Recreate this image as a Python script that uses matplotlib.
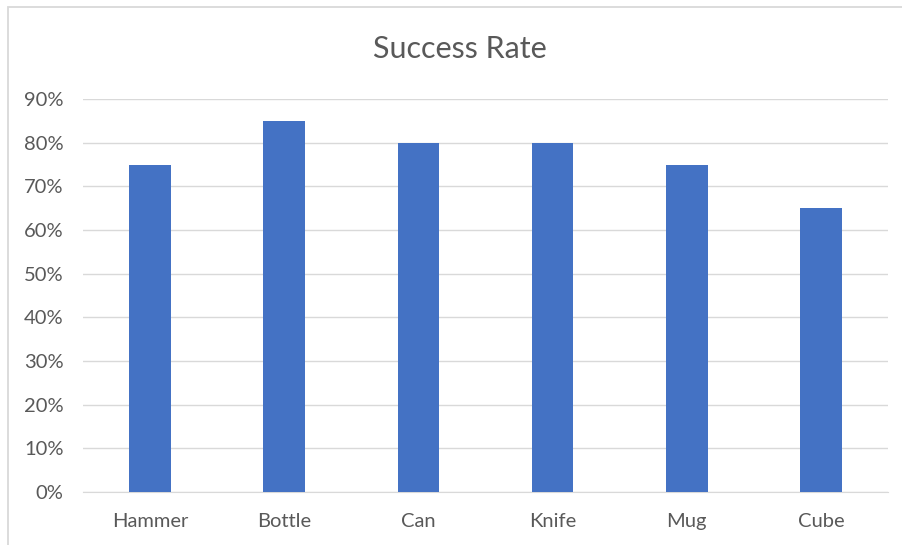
import matplotlib.pyplot as plt
from matplotlib.patches import Rectangle

# datos
objetos = ['Hammer', 'Bottle', 'Can', 'Knife', 'Mug', 'Cube']
exito = [75, 85, 80, 80, 75, 65]
ticks_y = [0, 10, 20, 30, 40, 50, 60, 70, 80, 90]

plt.rcParams['font.family'] = ['Lato', 'DejaVu Sans']
gris = '#595959'

fig = plt.figure(figsize=(9.02, 5.45), dpi=100)
ax = fig.add_axes([0.092, 0.0972, 0.8925, 0.7211])

# borde del area del grafico
fig.patches.append(Rectangle((8/902, -0.1), 1.2, 1 - 7/545 + 0.1, transform=fig.transFigure,
                             fill=False, edgecolor='#d9d9d9', linewidth=1.3))

x = range(len(objetos))
ax.bar(x, exito, width=0.31, color='#4472C4', zorder=3)

ax.set_xlim(-0.5, len(objetos) - 0.5)
ax.set_ylim(0, 90)
ax.set_yticks(ticks_y)
ax.set_yticklabels([str(t) + '%' for t in ticks_y])
ax.set_xticks(list(x))
ax.set_xticklabels(objetos)
ax.grid(axis='y', color='#d9d9d9', linewidth=1, zorder=0)
for s in ['top', 'right', 'left']:
    ax.spines[s].set_visible(False)
ax.spines['bottom'].set_color('#d9d9d9')
ax.tick_params(axis='both', length=0, colors=gris, labelsize=14.5)
ax.tick_params(axis='x', pad=15)
ax.tick_params(axis='y', pad=14)

fig.text(0.51, 1 - 49/545, 'Success Rate', ha='center', va='center', fontsize=22, color=gris)

plt.savefig('out.png', dpi=100)
